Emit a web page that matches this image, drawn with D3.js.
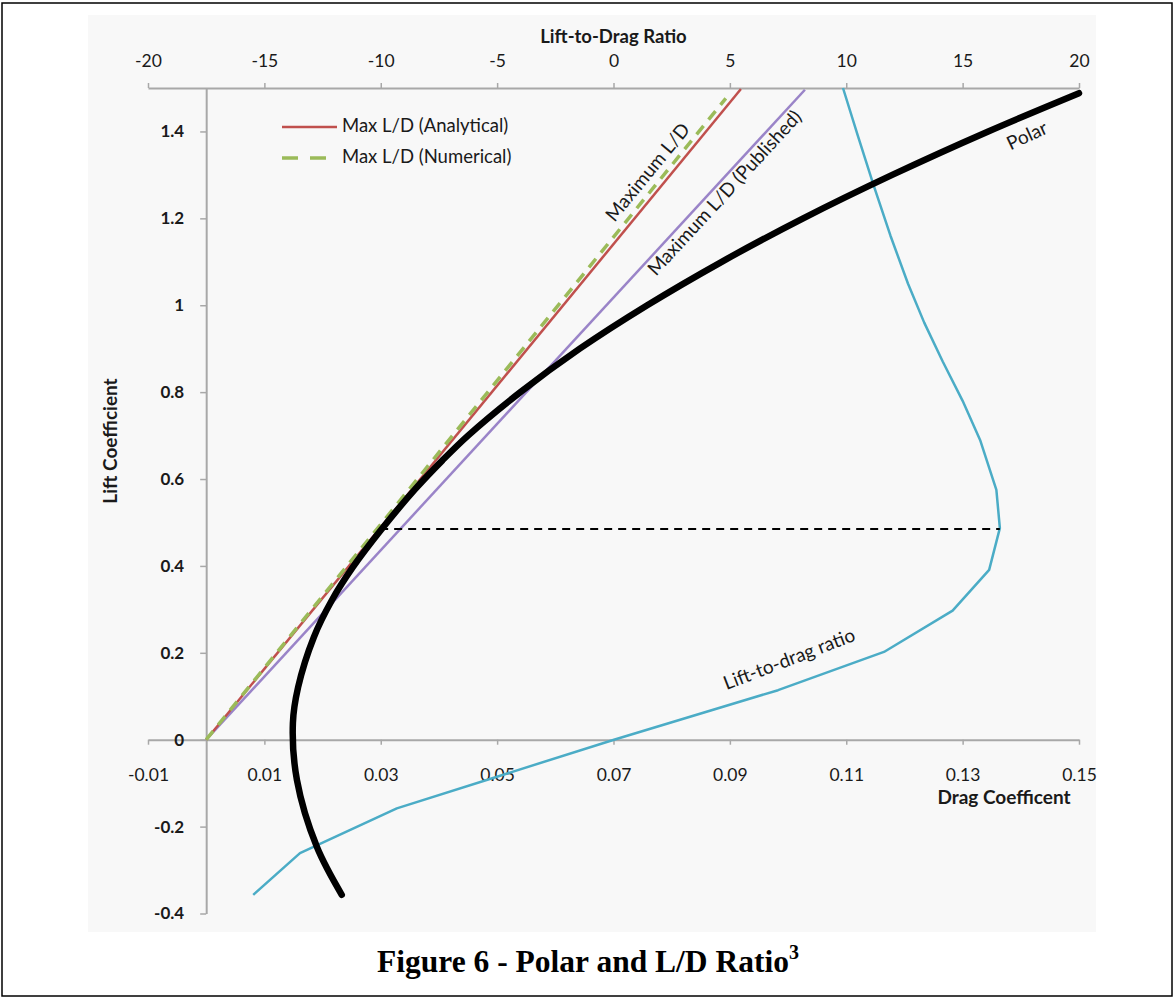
<!DOCTYPE html>
<html>
<head>
<meta charset="utf-8">
<script src="https://cdn.jsdelivr.net/npm/d3@7"></script>
<style>
  html, body { margin: 0; padding: 0; background: #fff; }
  svg { display: block; }
  .tick text { font-family: Lato, "Open Sans", sans-serif; fill: #1a1a1a; }
</style>
</head>
<body>
<svg id="chart" width="1175" height="998"></svg>
<script>
// ---------- data ----------
const dragTicks = [-0.01, 0.01, 0.03, 0.05, 0.07, 0.09, 0.11, 0.13, 0.15];
const liftTicks = [-0.4, -0.2, 0, 0.2, 0.4, 0.6, 0.8, 1, 1.2, 1.4];
const ldTicks = [-20, -15, -10, -5, 0, 5, 10, 15, 20];

// Drag polar (CD vs CL)
const polarCL = [-0.357, -0.246, -0.093, 0.038, 0.121, 0.236, 0.321, 0.397, 0.482, 0.575, 0.643, 0.700, 0.800, 0.900, 1.000, 1.100, 1.200, 1.300, 1.400, 1.488];
const polarCD = [0.0233, 0.0190, 0.0156, 0.0149, 0.0158, 0.0185, 0.0216, 0.0252, 0.0300, 0.0358, 0.0406, 0.0450, 0.0540, 0.0642, 0.0758, 0.0886, 0.1026, 0.1179, 0.1344, 0.1500];

// Lift-to-drag ratio (L/D on top axis vs CL)
const ldCL  = [-0.357, -0.261, -0.158, 0.0, 0.114, 0.202, 0.297, 0.391, 0.487, 0.575, 0.690, 0.780, 0.870, 0.960, 1.050, 1.160, 1.277, 1.390, 1.50];
const ldVal = [-15.48, -13.47, -9.31, 0.02, 7.07, 11.62, 14.57, 16.14, 16.6, 16.45, 15.75, 15.0, 14.15, 13.35, 12.65, 11.9, 11.17, 10.5, 9.86];

// Maximum L/D tangent lines (CD, CL end points)
const analyticalCD = [0, 0.0919], analyticalCL = [0, 1.4976];
const numericalCD  = [0, 0.0893], numericalCL  = [0, 1.476];
const publishedCD  = [0, 0.1029], publishedCL  = [0, 1.496];

// Max L/D marker (horizontal dashed line)
const maxCL = 0.485, maxStartCD = 0.0299, maxLD = 16.6;

// ---------- drawing ----------
const svg = d3.select("#chart");
const font = "Lato, 'Open Sans', sans-serif";

// outer frame
svg.append("rect").attr("x", 2).attr("y", 3).attr("width", 1170).attr("height", 993)
  .attr("fill", "#fff").attr("stroke", "#000").attr("stroke-width", 1.5);
// chart background
svg.append("rect").attr("x", 88).attr("y", 15).attr("width", 1008).attr("height", 917)
  .attr("fill", "#f8f8f8");

const x = d3.scaleLinear().domain([-0.01, 0.15]).range([148, 1079]);
const xTop = d3.scaleLinear().domain([-20, 20]).range([148, 1079]);
const y = d3.scaleLinear().domain([-0.4, 1.5]).range([913.5, 88]);

const axisColor = "#a8a8a8";
function styleAxis(g) {
  g.selectAll("path.domain").attr("stroke", axisColor).attr("stroke-width", 2);
  g.selectAll(".tick line").attr("stroke", axisColor).attr("stroke-width", 1.5);
  g.selectAll(".tick text").attr("font-size", 17.5);
}

// bottom axis (at CL = 0)
const gB = svg.append("g").attr("transform", `translate(0,${y(0)})`)
  .call(d3.axisBottom(x).tickValues(dragTicks).tickSize(5).tickSizeOuter(0).tickPadding(24)
    .tickFormat(d => String(+d.toFixed(2))));
styleAxis(gB);

// top axis
const gT = svg.append("g").attr("transform", `translate(0,${y(1.5)})`)
  .call(d3.axisTop(xTop).tickValues(ldTicks).tickSize(5).tickSizeOuter(0).tickPadding(16)
    .tickFormat(d => String(d)));
styleAxis(gT);

// left axis (at CD = 0)
const gL = svg.append("g").attr("transform", `translate(${x(0)},0)`)
  .call(d3.axisLeft(y).tickValues(liftTicks).tickSize(6).tickSizeOuter(0).tickPadding(16)
    .tickFormat(d => String(+d.toFixed(1))));
styleAxis(gL);
gL.selectAll(".tick text").attr("font-weight", "bold").attr("font-size", 17);

// axis titles
svg.append("text").attr("x", xTop(0)).attr("y", 43).attr("text-anchor", "middle")
  .attr("font-family", font).attr("font-size", 18.5).attr("font-weight", "bold").attr("fill", "#1a1a1a")
  .text("Lift-to-Drag Ratio");
svg.append("text").attr("x", 1004).attr("y", 804).attr("text-anchor", "middle")
  .attr("font-family", font).attr("font-size", 19).attr("font-weight", "bold").attr("fill", "#1a1a1a")
  .text("Drag Coefficent");
svg.append("text").attr("transform", `translate(117,441) rotate(-90)`).attr("text-anchor", "middle")
  .attr("font-family", font).attr("font-size", 19).attr("font-weight", "bold").attr("fill", "#1a1a1a")
  .text("Lift Coefficient");

const lineXY = d3.line().x(d => x(d[0])).y(d => y(d[1]));
const zip = (a, b) => a.map((v, i) => [v, b[i]]);

// Published max L/D
svg.append("path").datum(zip(publishedCD, publishedCL)).attr("d", lineXY)
  .attr("fill", "none").attr("stroke", "#9a84c8").attr("stroke-width", 2.5);
// Analytical
svg.append("path").datum(zip(analyticalCD, analyticalCL)).attr("d", lineXY)
  .attr("fill", "none").attr("stroke", "#c0504d").attr("stroke-width", 2.5);
// Numerical
svg.append("path").datum(zip(numericalCD, numericalCL)).attr("d", lineXY)
  .attr("fill", "none").attr("stroke", "#9bbb59").attr("stroke-width", 3.5)
  .attr("stroke-dasharray", "11,8");

// Lift-to-drag ratio curve
svg.append("path").datum(zip(ldVal, ldCL))
  .attr("d", d3.line().x(d => xTop(d[0])).y(d => y(d[1])))
  .attr("fill", "none").attr("stroke", "#4bacc6").attr("stroke-width", 2.5).attr("stroke-linejoin", "round");

// max L/D dashed horizontal
svg.append("line").attr("x1", x(maxStartCD)).attr("x2", xTop(maxLD))
  .attr("y1", y(maxCL)).attr("y2", y(maxCL))
  .attr("stroke", "#000").attr("stroke-width", 1.8).attr("stroke-dasharray", "8,6");

// Polar
svg.append("path").datum(zip(polarCD, polarCL))
  .attr("d", d3.line().x(d => x(d[0])).y(d => y(d[1])).curve(d3.curveCatmullRom))
  .attr("fill", "none").attr("stroke", "#000").attr("stroke-width", 6.5).attr("stroke-linecap", "round");

// in-chart labels
function label(txt, cd, cl, ang) {
  svg.append("text").attr("transform", `translate(${x(cd)},${y(cl)}) rotate(${ang})`)
    .attr("text-anchor", "middle").attr("dominant-baseline", "middle")
    .attr("font-family", font).attr("font-size", 19).attr("fill", "#1a1a1a").text(txt);
}
label("Maximum L/D", 0.0761, 1.304, -50.5);
label("Maximum L/D (Published)", 0.0893, 1.256, -47.3);
label("Polar", 0.1412, 1.387, -25);
label("Lift-to-drag ratio", 0.1003, 0.182, -21);

// legend
const leg = svg.append("g");
leg.append("line").attr("x1", 282).attr("x2", 337).attr("y1", 127).attr("y2", 127)
  .attr("stroke", "#c0504d").attr("stroke-width", 2.5);
leg.append("line").attr("x1", 282).attr("x2", 337).attr("y1", 158).attr("y2", 158)
  .attr("stroke", "#9bbb59").attr("stroke-width", 3.5).attr("stroke-dasharray", "16,12");
leg.append("text").attr("x", 342).attr("y", 127).attr("dominant-baseline", "middle")
  .attr("font-family", font).attr("font-size", 18.5).attr("fill", "#1a1a1a").text("Max L/D (Analytical)");
leg.append("text").attr("x", 342).attr("y", 158).attr("dominant-baseline", "middle")
  .attr("font-family", font).attr("font-size", 18.5).attr("fill", "#1a1a1a").text("Max L/D (Numerical)");

// caption
const cap = svg.append("text").attr("x", 588).attr("y", 972).attr("text-anchor", "middle")
  .attr("font-family", "'Liberation Serif', 'Times New Roman', serif").attr("font-size", 31.5)
  .attr("font-weight", "bold").attr("fill", "#000");
cap.append("tspan").text("Figure 6 - Polar and L/D Ratio");
cap.append("tspan").attr("font-size", 20).attr("dy", -13).text("3");
</script>
</body>
</html>
